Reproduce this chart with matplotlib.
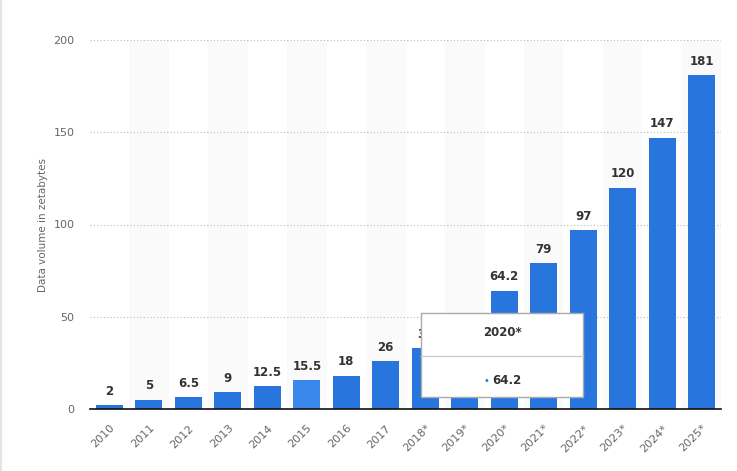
import matplotlib
matplotlib.use('Agg')
import matplotlib.pyplot as plt
from matplotlib.patches import Rectangle

years = ['2010', '2011', '2012', '2013', '2014', '2015', '2016', '2017',
         '2018*', '2019*', '2020*', '2021*', '2022*', '2023*', '2024*', '2025*']
volume = [2, 5, 6.5, 9, 12.5, 15.5, 18, 26, 33, 41, 64.2, 79, 97, 120, 147, 181]
value_labels = ['2', '5', '6.5', '9', '12.5', '15.5', '18', '26', '33', '41',
                '64.2', '79', '97', '120', '147', '181']
hover_year = '2015'
tooltip_year = '2020*'

BLUE = '#2876dd'
HOVER = '#3a88ec'

fig = plt.figure(figsize=(7.37, 4.71), dpi=100)
ax = fig.add_axes([89.7 / 737, 62 / 471, (721.4 - 89.7) / 737, 369 / 471])

x = list(range(len(years)))
colors = [HOVER if y == hover_year else BLUE for y in years]

# alternating column stripes
for i in x:
    if i % 2 == 1:
        ax.axvspan(i - 0.5, i + 0.5, color='#fafafa', zorder=0, lw=0)

ax.bar(x, volume, width=0.68, color=colors, zorder=3)

for i, (v, lab) in enumerate(zip(volume, value_labels)):
    ax.text(i, v + 4, lab, ha='center', va='bottom', fontsize=8.5,
            color='#333333', fontweight='semibold', zorder=4)

ax.set_xlim(-0.5, len(years) - 0.5)
ax.set_ylim(0, 200)
ax.set_yticks([0, 50, 100, 150, 200])
ax.yaxis.grid(True, linestyle=(0, (1, 2)), color='#bbbbbb', lw=0.8, zorder=1)
ax.set_axisbelow(True)

for s in ['top', 'right', 'left']:
    ax.spines[s].set_visible(False)
ax.spines['bottom'].set_color('#111111')
ax.spines['bottom'].set_linewidth(1.2)
ax.spines['bottom'].set_zorder(5)

ax.set_xticks(x)
ax.set_xticklabels(years, rotation=45, ha='right', rotation_mode='anchor',
                   fontsize=8, color='#666666')
ax.tick_params(axis='x', length=0, pad=10)
ax.tick_params(axis='y', length=0, pad=11, labelsize=8, labelcolor='#666666')
ax.set_ylabel('Data volume in zetabytes', fontsize=7.5, color='#666666', labelpad=4)

# faint page border on the left
fig.lines.append(plt.Line2D([0.001, 0.001], [0, 1], transform=fig.transFigure,
                            color='#e4e4e4', lw=1.5))

# tooltip box
fx0, fy0, fw, fh = 421 / 737, (471 - 397) / 471, 162 / 737, 84 / 471
fig.patches.append(Rectangle((fx0, fy0), fw, fh, transform=fig.transFigure,
                             facecolor='white', edgecolor='#aaaaaa', lw=1, zorder=10))
fig.lines.append(plt.Line2D([fx0, fx0 + fw], [(471 - 356) / 471] * 2,
                            transform=fig.transFigure, color='#cccccc', lw=1, zorder=11))
fig.text(fx0 + fw / 2, (471 - 333) / 471, tooltip_year, ha='center', va='center',
         fontsize=8.5, fontweight='bold', color='#333333', zorder=12)
tip_val = volume[years.index(tooltip_year)]
fig.text(fx0 + fw / 2 + 0.006, (471 - 380) / 471, f'{tip_val}', ha='center', va='center',
         fontsize=8.5, fontweight='bold', color='#333333', zorder=12)
fig.text(486 / 737, (471 - 381) / 471, '\u2022', ha='center', va='center',
         fontsize=7, color=BLUE, zorder=12)

fig.savefig('out.png', dpi=100)
